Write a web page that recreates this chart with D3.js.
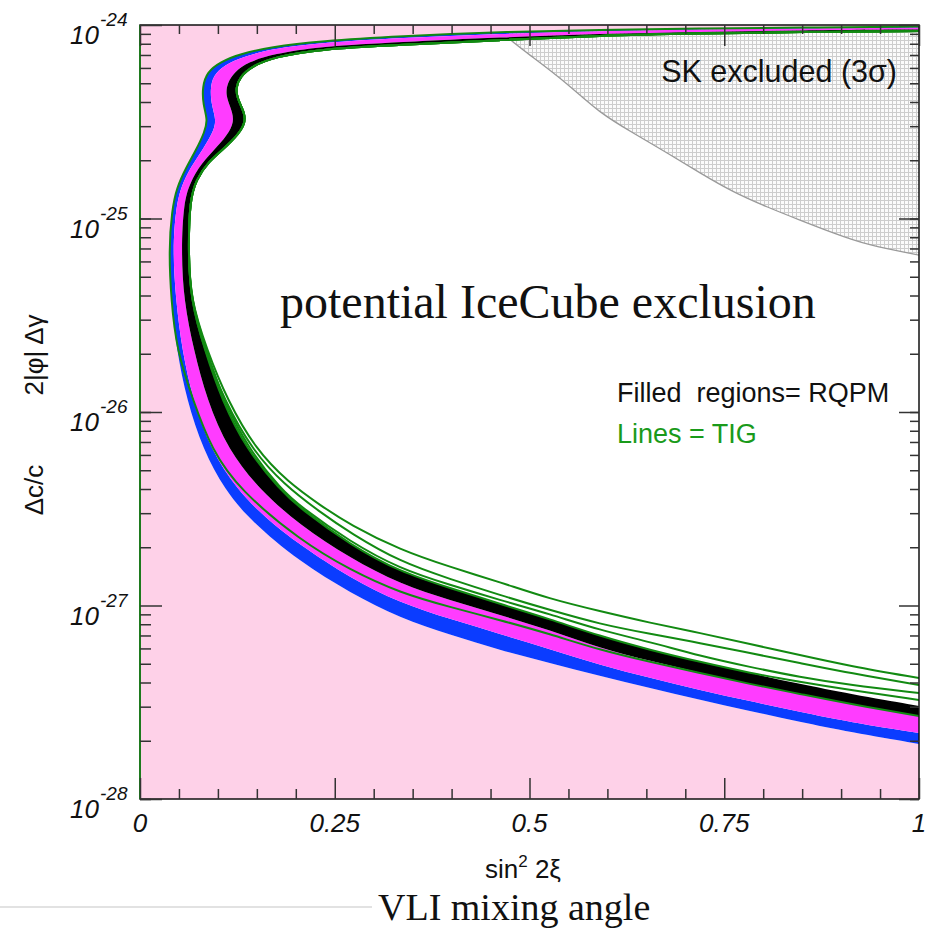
<!DOCTYPE html>
<meta charset='utf-8'>
<style>
	body { margin: 0; background: #fff; }
	.tick line { stroke: #333; stroke-width: 1.5px; }
	.lab { font-family: "Liberation Sans", Arial, sans-serif; font-style: italic; fill: #111; }
	.ttl { font-family: "Liberation Sans", Arial, sans-serif; fill: #111; }
	.serif { font-family: "Liberation Serif", "Times New Roman", serif; fill: #111; }
</style>
<div class="CHANGE"></div>
<script src="https://d3js.org/d3.v7.min.js"></script>
<script>
	// curves are [sin^2 2xi, log10(dc/c)]
	var blueOuter = [[1.000,-24.008],[0.847,-24.013],[0.719,-24.018],[0.590,-24.026],[0.462,-24.036],[0.334,-24.057],
		[0.231,-24.083],[0.167,-24.114],[0.128,-24.150],[0.103,-24.191],[0.086,-24.243],[0.080,-24.320],[0.081,-24.413],
		[0.087,-24.491],[0.083,-24.553],[0.072,-24.646],[0.059,-24.739],[0.047,-24.842],[0.041,-24.956],[0.037,-25.163],
		[0.040,-25.421],[0.047,-25.680],[0.060,-25.938],[0.081,-26.196],[0.109,-26.403],[0.141,-26.558],[0.205,-26.775],
		[0.270,-26.935],[0.334,-27.065],[0.398,-27.152],[0.462,-27.230],[0.526,-27.297],[0.590,-27.364],[0.655,-27.426],
		[0.719,-27.488],[0.783,-27.545],[0.847,-27.602],[0.911,-27.654],[1.000,-27.716]];
	var blueMagenta = [[1.000,-24.013],[0.847,-24.018],[0.719,-24.023],[0.590,-24.032],[0.462,-24.045],[0.334,-24.067],
		[0.231,-24.092],[0.168,-24.124],[0.132,-24.165],[0.108,-24.207],[0.094,-24.261],[0.090,-24.331],[0.092,-24.419],
		[0.098,-24.491],[0.094,-24.553],[0.081,-24.641],[0.065,-24.734],[0.053,-24.832],[0.046,-24.946],[0.042,-25.163],
		[0.046,-25.421],[0.054,-25.680],[0.068,-25.938],[0.091,-26.196],[0.125,-26.403],[0.160,-26.543],[0.205,-26.687],
		[0.270,-26.858],[0.334,-26.987],[0.398,-27.070],[0.462,-27.147],[0.526,-27.225],[0.590,-27.307],[0.655,-27.375],
		[0.719,-27.437],[0.783,-27.494],[0.847,-27.550],[0.911,-27.602],[1.000,-27.659]];
	var magentaBlack = [[1.000,-24.023],[0.847,-24.028],[0.719,-24.036],[0.590,-24.045],[0.462,-24.064],[0.334,-24.088],
		[0.231,-24.111],[0.171,-24.150],[0.139,-24.191],[0.121,-24.243],[0.112,-24.300],[0.110,-24.362],[0.116,-24.424],
		[0.121,-24.486],[0.116,-24.548],[0.099,-24.630],[0.078,-24.718],[0.064,-24.817],[0.056,-24.920],[0.053,-25.163],
		[0.056,-25.421],[0.069,-25.680],[0.086,-25.938],[0.113,-26.196],[0.154,-26.403],[0.205,-26.584],[0.270,-26.755],
		[0.334,-26.889],[0.398,-26.972],[0.462,-27.049],[0.526,-27.127],[0.590,-27.220],[0.655,-27.287],[0.719,-27.349],
		[0.783,-27.406],[0.847,-27.457],[0.911,-27.509],[1.000,-27.571]];
	var blackInner = [[1.000,-24.031],[0.847,-24.036],[0.719,-24.044],[0.590,-24.054],[0.462,-24.078],[0.334,-24.103],
		[0.231,-24.124],[0.173,-24.165],[0.144,-24.212],[0.128,-24.269],[0.123,-24.326],[0.125,-24.377],[0.131,-24.429],
		[0.136,-24.481],[0.131,-24.543],[0.112,-24.625],[0.087,-24.708],[0.072,-24.801],[0.064,-24.904],[0.062,-25.163],
		[0.065,-25.421],[0.083,-25.680],[0.105,-25.938],[0.137,-26.196],[0.180,-26.403],[0.205,-26.496],[0.270,-26.687],
		[0.334,-26.827],[0.398,-26.910],[0.462,-26.992],[0.526,-27.070],[0.590,-27.158],[0.655,-27.230],[0.719,-27.292],
		[0.783,-27.349],[0.847,-27.406],[0.911,-27.457],[1.000,-27.519]];

	// TIG lines: shared upper part along the black edge, then separate tails
	var tigUpper = blackInner.slice(0, 21);
	var tig1Tail = [[0.086,-25.680],[0.112,-25.938],[0.149,-26.196],[0.190,-26.362],[0.231,-26.481],[0.270,-26.584],
		[0.334,-26.713],[0.398,-26.801],[0.462,-26.879],[0.526,-26.966],[0.590,-27.029],[0.655,-27.090],[0.719,-27.142],
		[0.783,-27.199],[0.847,-27.256],[0.911,-27.313],[1.000,-27.375]];
	var tig2Tail = [[0.083,-25.680],[0.108,-25.938],[0.144,-26.196],[0.184,-26.372],[0.231,-26.517],[0.270,-26.625],
		[0.334,-26.775],[0.398,-26.863],[0.462,-26.946],[0.526,-27.023],[0.590,-27.096],[0.655,-27.147],[0.719,-27.194],
		[0.783,-27.246],[0.847,-27.297],[0.911,-27.349],[1.000,-27.411]];
	var tig3Tail = [[0.085,-25.680],[0.107,-25.938],[0.140,-26.196],[0.182,-26.403],[0.205,-26.486],[0.270,-26.672],
		[0.334,-26.811],[0.398,-26.894],[0.462,-26.972],[0.526,-27.044],[0.590,-27.127],[0.655,-27.189],[0.719,-27.261],
		[0.783,-27.318],[0.847,-27.370],[0.911,-27.411],[1.000,-27.452]];
	var tig4Tail = blackInner.slice(21, 35).concat([[0.847,-27.395],[0.911,-27.437],[1.000,-27.488]]);
	var tigOuterUpper = blueOuter.slice(0, 22);
	var tigOuterTail = [[0.068,-25.938],[0.092,-26.196],[0.128,-26.403],[0.205,-26.662],[0.270,-26.817],[0.334,-26.935],
		[0.398,-27.008],[0.462,-27.075],[0.526,-27.147],[0.590,-27.230],[0.655,-27.292],[0.719,-27.349],[0.783,-27.406],
		[0.847,-27.457],[0.911,-27.509],[1.000,-27.571]];

	// SK 3 sigma excluded boundary
	var skEdge = [[0.462,-24.000],[0.469,-24.062],[0.504,-24.165],[0.548,-24.300],[0.590,-24.455],[0.633,-24.558],
		[0.677,-24.661],[0.719,-24.765],[0.761,-24.863],[0.805,-24.941],[0.847,-25.008],[0.890,-25.075],[0.933,-25.137],
		[1.000,-25.189]];

	var xMajor = [0, 0.25, 0.5, 0.75, 1];
	var xLabels = ["0", "0.25", "0.5", "0.75", "1"];
	var yMajor = [1e-24, 1e-25, 1e-26, 1e-27, 1e-28];
	var yLabels = ["-24", "-25", "-26", "-27", "-28"];

	var width = 935, height = 933;
	var plotL = 140, plotR = 919, plotT = 25, plotB = 799;

	var svg = d3.select(".CHANGE").append("svg")
		.attr("width", width)
		.attr("height", height);

	var x = d3.scaleLinear().domain([0, 1]).range([plotL, plotR]);
	var y = d3.scaleLog().domain([1e-28, 1e-24]).range([plotB, plotT]);

	var defs = svg.append("defs");
	defs.append("clipPath").attr("id", "plot")
		.append("rect").attr("x", plotL).attr("y", plotT).attr("width", plotR - plotL).attr("height", plotB - plotT);
	var pat = defs.append("pattern").attr("id", "grid")
		.attr("width", 4).attr("height", 4).attr("patternUnits", "userSpaceOnUse");
	pat.append("rect").attr("width", 4).attr("height", 4).attr("fill", "#fbfbfb");
	pat.append("path").attr("d", "M0 0.5H4M0.5 0V4").attr("stroke", "#cdcdcd").attr("stroke-width", 1);

	var line = d3.line()
		.x(function(d) { return x(d[0]); })
		.y(function(d) { return y(Math.pow(10, d[1])); })
		.curve(d3.curveBasis);

	function band(a, b) {
		var back = line(b.slice().reverse());
		return line(a) + "L" + back.slice(1) + "Z";
	}
	function pt(sx, dc) { return x(sx) + "," + y(dc); }

	var g = svg.append("g").attr("clip-path", "url(#plot)");

	// SK hatched region
	g.append("path")
		.attr("d", line(skEdge) + "L" + pt(1, 1e-24) + "Z")
		.attr("fill", "url(#grid)");
	g.append("path")
		.attr("d", line(skEdge))
		.attr("fill", "none").attr("stroke", "#9a9a9a").attr("stroke-width", 1.3);

	// pink allowed region
	g.append("path")
		.attr("d", line(blueOuter) + "L" + pt(1, 1e-28) + "L" + pt(0, 1e-28) + "L" + pt(0, 1e-24) + "L" + pt(1, 1e-24) + "Z")
		.attr("fill", "#fed1e8");

	// RQPM bands
	g.append("path").attr("d", band(blueOuter, blueMagenta)).attr("fill", "#0b3cff");
	g.append("path").attr("d", band(blueMagenta, magentaBlack)).attr("fill", "#ff3cff");
	g.append("path").attr("d", band(magentaBlack, blackInner)).attr("fill", "#000");

	// TIG lines
	var tigLines = [
		tigOuterUpper.concat(tigOuterTail),
		tigUpper.concat(tig4Tail),
		tigUpper.concat(tig3Tail),
		tigUpper.concat(tig2Tail),
		tigUpper.concat(tig1Tail)
	];
	g.selectAll(".tig").data(tigLines).enter().append("path")
		.attr("class", "tig")
		.attr("d", line)
		.attr("fill", "none")
		.attr("stroke", "#128a12")
		.attr("stroke-width", 2);

	// frame
	svg.append("rect")
		.attr("x", plotL).attr("y", plotT).attr("width", plotR - plotL).attr("height", plotB - plotT)
		.attr("fill", "none").attr("stroke", "#111").attr("stroke-width", 1.5);
	svg.append("line")
		.attr("x1", plotL).attr("x2", plotL).attr("y1", plotT).attr("y2", plotB)
		.attr("stroke", "#1e7a1e").attr("stroke-width", 2);

	// ticks, pointing inward
	var xMinor = d3.range(1, 20).map(function(i) { return i * 0.05; })
		.filter(function(v) { return Math.abs(v * 4 - Math.round(v * 4)) > 1e-6; });
	var yMinor = y.ticks().filter(function(v) { return yMajor.indexOf(v) < 0; });

	function addAxis(axis, tx, ty) {
		var a = svg.append("g").attr("transform", "translate(" + tx + "," + ty + ")").call(axis);
		a.select(".domain").remove();
		a.selectAll("text").remove();
	}
	addAxis(d3.axisBottom(x).tickValues(xMajor).tickSize(-21), 0, plotB);
	addAxis(d3.axisBottom(x).tickValues(xMinor).tickSize(-10), 0, plotB);
	addAxis(d3.axisTop(x).tickValues(xMajor).tickSize(-21), 0, plotT);
	addAxis(d3.axisTop(x).tickValues(xMinor).tickSize(-9), 0, plotT);
	addAxis(d3.axisLeft(y).tickValues(yMajor).tickSize(-22), plotL, 0);
	addAxis(d3.axisLeft(y).tickValues(yMinor).tickSize(-11), plotL, 0);
	addAxis(d3.axisRight(y).tickValues(yMajor).tickSize(-20), plotR, 0);
	addAxis(d3.axisRight(y).tickValues(yMinor).tickSize(-9), plotR, 0);

	// tick labels
	svg.selectAll(".xl").data(xMajor).enter().append("text")
		.attr("class", "lab")
		.attr("x", function(d) { return x(d); })
		.attr("y", 832)
		.attr("text-anchor", "middle")
		.attr("font-size", 26)
		.text(function(d, i) { return xLabels[i]; });
	svg.selectAll(".yl").data(yMajor).enter().append("text")
		.attr("class", "lab")
		.attr("x", 99)
		.attr("y", function(d) { return y(d) + 19; })
		.attr("text-anchor", "end")
		.attr("font-size", 26)
		.text("10");
	svg.selectAll(".ye").data(yMajor).enter().append("text")
		.attr("class", "lab")
		.attr("x", 100)
		.attr("y", function(d) { return y(d) + 1; })
		.attr("font-size", 19)
		.text(function(d, i) { return yLabels[i]; });

	// axis titles
	var xt = svg.append("text").attr("class", "ttl")
		.attr("x", 523).attr("y", 878).attr("text-anchor", "middle").attr("font-size", 26);
	xt.append("tspan").text("sin");
	xt.append("tspan").attr("dy", -11).attr("font-size", 17).text("2");
	xt.append("tspan").attr("dy", 11).text(" 2ξ");

	svg.append("text").attr("class", "ttl")
		.attr("transform", "translate(43,490) rotate(-90)")
		.attr("text-anchor", "middle").attr("font-size", 26)
		.text("Δc/c");
	svg.append("text").attr("class", "ttl")
		.attr("transform", "translate(43,355) rotate(-90)")
		.attr("text-anchor", "middle").attr("font-size", 26)
		.text("2|φ| Δγ");

	// annotations
	svg.append("text").attr("class", "ttl")
		.attr("x", 897).attr("y", 82).attr("text-anchor", "end").attr("font-size", 30.5)
		.text("SK excluded (3σ)");
	svg.append("text").attr("class", "ttl")
		.attr("x", 617).attr("y", 402).attr("font-size", 27)
		.attr("xml:space", "preserve")
		.text("Filled  regions= RQPM");
	svg.append("text").attr("class", "ttl")
		.attr("x", 617).attr("y", 443).attr("font-size", 27)
		.style("fill", "#1a9a1a")
		.text("Lines = TIG");
	svg.append("text").attr("class", "serif")
		.attr("x", 280).attr("y", 318).attr("font-size", 48)
		.text("potential IceCube exclusion");
	svg.append("text").attr("class", "serif")
		.attr("x", 378).attr("y", 920).attr("font-size", 38)
		.text("VLI mixing angle");

	svg.append("line")
		.attr("x1", 0).attr("x2", 372).attr("y1", 907).attr("y2", 907)
		.attr("stroke", "#e2e2e2").attr("stroke-width", 2);
</script>
